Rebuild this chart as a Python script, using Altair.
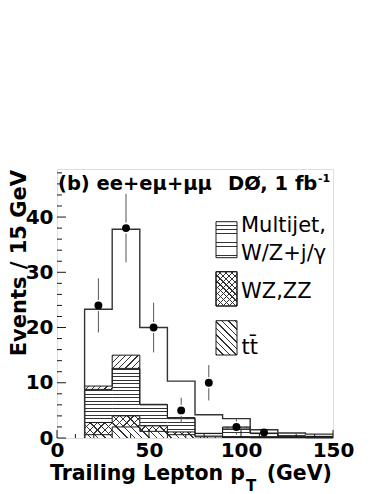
import math
import altair as alt
import pandas as pd

# ---------------- data ----------------
bin_lo = [15, 30, 45, 60, 75, 90, 105, 120, 135]
bin_width = 15
total = [23.3, 37.8, 20.0, 10.3, 4.2, 3.5, 1.5, 0.9, 0.7]
ttbar = [0.6, 2.0, 1.2, 0.6, 0.2, 0.1, 0.05, 0.05, 0.03]
wzzz = [2.2, 2.0, 1.0, 0.5, 0.15, 0.1, 0.05, 0.05, 0.03]
multijet = [6.0, 8.6, 3.8, 2.4, 0.45, 1.6, 0.7, 0.25, 0.2]
other = [0.6, 2.4, 0.1, 0.2, 0.05, 0.2, 0.1, 0.05, 0.04]

data_x = [22.5, 37.5, 52.5, 67.5, 82.5, 97.5, 112.5]
data_n = [24, 38, 20, 5, 10, 2, 1]
data_err = [4.9, 6.2, 4.5, 2.3, 3.2, 1.4, 1.0]

x_major = [0, 50, 100, 150]
x_minor = [10, 20, 30, 40, 60, 70, 80, 90, 110, 120, 130, 140]
y_major = [0, 10, 20, 30, 40]
y_minor = [2, 4, 6, 8, 12, 14, 16, 18, 22, 24, 26, 28, 32, 34, 36, 38, 42, 44, 46, 48]

# ---------------- geometry / style ----------------
W, H = 276, 269
XMAX, YMAX = 150, 48.7
FONT = "DejaVu Sans"
INK = "#1a1a1a"
HATCH = "#333333"
WHITE = "#ffffff"
TRANSP = "rgba(255,255,255,0)"


def px(x):
    return x / XMAX * W


def py(y):
    return H - y / YMAX * H


def stops_from_lines(lines, color, bg):
    st = [{"offset": 0.0, "color": bg}]
    last = 0.0
    for a, b in sorted(lines):
        a = max(last, max(0.0, a))
        b = min(1.0, b)
        if b <= a:
            continue
        st += [{"offset": float(a), "color": bg}, {"offset": float(a), "color": color},
               {"offset": float(b), "color": color}, {"offset": float(b), "color": bg}]
        last = b
    st.append({"offset": 1.0, "color": bg})
    return st


def hatch(kind, X0, Yt, w, h, spacing, lw=0.9, color=HATCH, bg=WHITE):
    """Linear-gradient stripes (bbox units) giving a fixed pixel hatch."""
    lines = []
    if kind == "h":
        base = H - (Yt + h)
        k0 = math.floor(base / spacing) - 1
        k1 = math.ceil((base + h) / spacing) + 1
        for k in range(k0, k1 + 1):
            z = k * spacing + spacing / 2
            t = (z - base) / h
            hw = lw / 2 / h
            lines.append((t - hw, t + hw))
        g = {"x1": 0, "y1": 1, "x2": 1e-6, "y2": 1e-6}
    else:
        per = spacing * math.sqrt(2)
        s = (w + h) / (w * w + h * h)
        hw = lw * math.sqrt(2) / 2 / (w + h)
        if kind == "b":  # "\" lines: y - x = c
            cmin, cmax = Yt - (X0 + w), Yt + h - X0
            for k in range(math.floor(cmin / per) - 1, math.ceil(cmax / per) + 2):
                c = k * per
                t = (h - (c - (Yt - X0))) / (w + h)
                lines.append((t - hw, t + hw))
            y2 = 1 - s * h
            g = {"x1": 0, "y1": 1, "x2": s * w, "y2": y2 if abs(y2) > 1e-9 else 1e-6}
        else:  # "/" lines: x + y = c
            cmin, cmax = X0 + Yt, X0 + w + Yt + h
            for k in range(math.floor(cmin / per) - 1, math.ceil(cmax / per) + 2):
                c = k * per
                t = (c - (X0 + Yt)) / (w + h)
                lines.append((t - hw, t + hw))
            g = {"x1": 0, "y1": 0, "x2": s * w, "y2": s * h}
    g = {k: float(v) for k, v in g.items()}
    g["gradient"] = "linear"
    g["stops"] = stops_from_lines(lines, color, bg)
    return g


xaxis = alt.Axis(values=x_major, title=None, domain=False, ticks=False, grid=False,
                 labelFont=FONT, labelFontWeight="bold", labelFontSize=20,
                 labelColor="black", labelPadding=2, labelFlush=False, labelOverlap=False)
yaxis = alt.Axis(values=y_major, title=None, domain=False, ticks=False, grid=False,
                 labelFont=FONT, labelFontWeight="bold", labelFontSize=20,
                 labelColor="black", labelPadding=4, labelFlush=False, labelOverlap=False)
xscale = alt.Scale(domain=[0, XMAX], nice=False, zero=False)
yscale = alt.Scale(domain=[0, YMAX], nice=False, zero=False)


def X(f):
    return alt.X(f, type="quantitative", scale=xscale, axis=xaxis)


def Y(f):
    return alt.Y(f, type="quantitative", scale=yscale, axis=yaxis)


layers = []

# ---------------- stacked, hatched background components ----------------
comp_specs = [
    (ttbar, [("b", 5.2, WHITE)]),
    (wzzz, [("f", 5.2, WHITE), ("b", 5.2, TRANSP)]),
    (multijet, [("h", 3.5, WHITE)]),
    (other, [("f", 4.4, WHITE)]),
]
for i, lo in enumerate(bin_lo):
    bottom = 0.0
    for vals, pats in comp_specs:
        top = bottom + vals[i]
        X0, X1 = px(lo), px(lo + bin_width)
        Yt, Yb = py(top), py(bottom)
        w, h = X1 - X0, Yb - Yt
        if h >= 1.0:
            df = pd.DataFrame({"x0": [lo], "x1": [lo + bin_width], "y0": [bottom], "y1": [top]})
            for kind, sp, bg in pats:
                layers.append(
                    alt.Chart(df).mark_rect(fill=hatch(kind, X0, Yt, w, h, sp, 0.9, HATCH, bg),
                                            strokeWidth=0)
                    .encode(x=X("x0"), x2="x1", y=Y("y0"), y2="y1")
                )
        bottom = top

# ---------------- step outlines (cumulative tops + total) ----------------
cums = []
run = [0.0] * len(bin_lo)
for vals in (ttbar, wzzz, multijet, other):
    run = [a + b for a, b in zip(run, vals)]
    cums.append(list(run))

edges_x = [bin_lo[0]] + bin_lo + [bin_lo[-1] + bin_width]
for k, c in enumerate(cums + [total]):
    ys = [0.0] + c + [c[-1]]
    df = pd.DataFrame({"x": edges_x, "y": ys, "o": list(range(len(ys)))})
    is_total = k == len(cums)
    layers.append(
        alt.Chart(df).mark_line(interpolate="step-after", color="#333333" if is_total else INK,
                                strokeWidth=1.4 if is_total else 1.0)
        .encode(x=X("x"), y=Y("y"), order="o:Q")
    )

# ---------------- inward ticks ----------------
layers.append(alt.Chart(pd.DataFrame({"y": y_major})).mark_rule(color=INK, strokeWidth=1)
              .encode(y=Y("y"), x=alt.value(0), x2=alt.value(9)))
layers.append(alt.Chart(pd.DataFrame({"y": y_minor})).mark_rule(color=INK, strokeWidth=1)
              .encode(y=Y("y"), x=alt.value(0), x2=alt.value(5)))
layers.append(alt.Chart(pd.DataFrame({"x": x_major})).mark_rule(color=INK, strokeWidth=1)
              .encode(x=X("x"), y=alt.value(H), y2=alt.value(H - 8)))
layers.append(alt.Chart(pd.DataFrame({"x": x_minor})).mark_rule(color=INK, strokeWidth=1)
              .encode(x=X("x"), y=alt.value(H), y2=alt.value(H - 4)))

# ---------------- data points with error bars (gap at marker) ----------------
gap = 5.5 / H * YMAX
seg = []
for x, n, e in zip(data_x, data_n, data_err):
    if e > gap:
        seg.append({"x": x, "a": n + gap, "b": n + e})
        seg.append({"x": x, "a": max(0.0, n - e), "b": n - gap})
layers.append(alt.Chart(pd.DataFrame(seg)).mark_rule(color="#555555", strokeWidth=1)
              .encode(x=X("x"), y=Y("a"), y2="b"))
layers.append(alt.Chart(pd.DataFrame({"x": data_x, "n": data_n}))
              .mark_circle(size=62, color="black", opacity=1)
              .encode(x=X("x"), y=Y("n")))

# ---------------- legend boxes ----------------
one = pd.DataFrame({"d": [0]})
legend_boxes = [
    ((159, 52.7, 180, 88.7), [("h", 4.3, WHITE)]),
    ((159, 102.7, 180, 137.0), [("f", 4.2, WHITE), ("b", 4.2, TRANSP)]),
    ((159, 151.7, 180, 186.0), [("b", 4.6, WHITE)]),
]
for (bx0, by0, bx1, by1), pats in legend_boxes:
    for j, (kind, sp, bg) in enumerate(pats):
        g = hatch(kind, bx0, by0, bx1 - bx0, by1 - by0, sp, 0.8, HATCH, bg)
        layers.append(alt.Chart(one).mark_rect(fill=g, stroke=INK, strokeWidth=1)
                      .encode(x=alt.value(bx0), x2=alt.value(bx1),
                              y=alt.value(by0), y2=alt.value(by1)))


# ---------------- text ----------------
def text(t, x, y, size, weight="bold", align="left", baseline="alphabetic", angle=0):
    kw = dict(text=t, font=FONT, fontSize=size, fontWeight=weight, align=align,
              baseline=baseline, color="black")
    if angle:
        kw["angle"] = angle
    return alt.Chart(one).mark_text(**kw).encode(x=alt.value(x), y=alt.value(y))


layers += [
    text("(b) ee+eμ+μμ", 1, 21, 19.5),
    text("DØ, 1 fb", 171, 21, 19.5),
    text("-1", 261, 13, 11),
    text("Multijet,", 184, 62.5, 21, "normal"),
    text("W/Z+j/γ", 184, 90.5, 21, "normal"),
    text("WZ,ZZ", 184, 128.7, 21, "normal"),
    text("tt\u0304", 184.5, 185, 21, "normal"),
    text("Events / 15 GeV", -31, 1, 21, angle=270, align="right"),
    text("Trailing Lepton p", 188, 311, 20.5, align="right"),
    text("T", 189, 322, 15),
    text("(GeV)", 275, 311, 20.5, align="right"),
]

chart = (
    alt.layer(*layers)
    .properties(width=W, height=H,
                autosize=alt.AutoSizeParams(type="none"),
                padding={"left": 49, "top": 161, "right": 30, "bottom": 62})
    .configure_view(stroke="#333333", strokeWidth=1.3)
    .configure(background="white")
)

chart.save("out.html", embed_options={"renderer": "svg", "actions": False})
